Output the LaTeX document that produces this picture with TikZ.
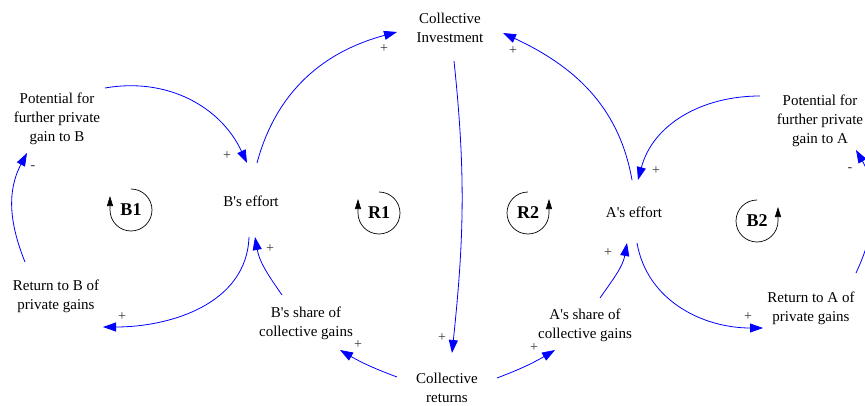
\documentclass[tikz,border=0pt]{standalone}
\usepackage{fontspec}
\setmainfont{Liberation Serif}
\usetikzlibrary{arrows.meta, calc}

\begin{document}
\begin{tikzpicture}[
    x=1pt, y=1pt,
    var/.style={align=center, font=\fontsize{15}{19}\selectfont, inner sep=0pt},
    link/.style={blue, line width=0.8pt, -{Triangle[length=13pt,width=9pt]}},
    sign/.style={font=\fontsize{14}{14}\selectfont, text=black!80, inner sep=0pt},
    looplabel/.style={font=\fontsize{18}{18}\selectfont\bfseries, inner sep=0pt},
    loopmark/.style={black, line width=0.7pt, -{Triangle[length=10pt,width=6pt]}},
]
\clip (0,0) rectangle (865,405);

% variables
\node[var] (cinv) at (450,377) {Collective\\Investment};
\node[var] (potb) at (57,286) {Potential for\\further private\\gain to B};
\node[var] (beff) at (251,204) {B\textquotesingle s effort};
\node[var] (retb) at (56,109) {Return to B of\\private gains};
\node[var] (bshare) at (306,82) {B\textquotesingle s share of\\collective gains};
\node[var] (cret) at (447,17) {Collective\\returns};
\node[var] (ashare) at (585,80) {A\textquotesingle s share of\\collective gains};
\node[var] (aeff) at (634,193) {A\textquotesingle s effort};
\node[var] (pota) at (820,284) {Potential for\\further private\\gain to A};
\node[var] (reta) at (811,97) {Return to A of\\private gains};

% loop markers
\node[looplabel] (b1) at (131,195) {B1};
\node[looplabel] (r1) at (379,192) {R1};
\node[looplabel] (r2) at (528,192) {R2};
\node[looplabel] (b2) at (757,184) {B2};
\draw[loopmark] ([yshift=21pt]b1.center) arc[start angle=90, end angle=-180, radius=21] -- ++(0,14);
\draw[loopmark] ([yshift=21pt]r1.center) arc[start angle=90, end angle=-180, radius=21] -- ++(0,14);
\draw[loopmark] ([yshift=21pt]r2.center) arc[start angle=90, end angle=360, radius=21] -- ++(0,14);
\draw[loopmark] ([yshift=21pt]b2.center) arc[start angle=90, end angle=360, radius=21] -- ++(0,14);

% B side
\draw[link] ($(potb)+(48,31)$) to[out=10, in=115] node[sign, pos=1, xshift=-20pt, yshift=7pt] {+} ($(beff)+(-4,38)$);
\draw[link] ($(beff)+(6,38)$) to[out=75, in=195] node[sign, pos=1, xshift=-13pt, yshift=-17pt] {+} ($(cinv)+(-53,-4)$);
\draw[link] ($(beff)+(-2,-36)$) to[out=-92, in=0] node[sign, pos=1, xshift=19pt, yshift=10pt] {+} ($(retb)+(47,-31)$);
\draw[link] ($(retb)+(-31,34)$) to[out=112, in=-118] node[sign, pos=1, xshift=6pt, yshift=-15pt] {-} ($(potb)+(-30,-34)$);
\draw[link] ($(bshare)+(-24,28)$) to[out=125, in=-80] node[sign, pos=1, xshift=15pt, yshift=-12pt] {+} ($(beff)+(4,-36)$);

% collective
\draw[link] ($(cinv)+(4,-33)$) to[out=-84, in=84] node[sign, pos=1, xshift=-10pt, yshift=15pt] {+} ($(cret)+(5,35)$);
\draw[link] ($(cret)+(-50,11)$) to[bend left=5] node[sign, pos=1, xshift=18pt, yshift=5pt] {+} ($(bshare)+(34,-27)$);
\draw[link] ($(cret)+(50,10)$) to[bend right=5] node[sign, pos=1, xshift=-21pt, yshift=2pt] {+} ($(ashare)+(-30,-25)$);

% A side
\draw[link] ($(ashare)+(15,27)$) to[out=55, in=-100] node[sign, pos=1, xshift=-19pt, yshift=-10pt] {+} ($(aeff)+(-7,-31)$);
\draw[link] ($(aeff)+(-2,32)$) to[out=100, in=-25] node[sign, pos=1, xshift=10pt, yshift=-18pt] {+} ($(cinv)+(53,-5)$);
\draw[link] ($(pota)+(-60,25)$) to[out=180, in=75] node[sign, pos=1, xshift=18pt, yshift=9pt] {+} ($(aeff)+(4,32)$);
\draw[link] ($(aeff)+(3,-31)$) to[out=-80, in=180] node[sign, pos=1, xshift=-15pt, yshift=11pt] {+} ($(reta)+(-48,-20)$);
\draw[link] ($(reta)+(45,35)$) to[out=65, in=-60] node[sign, pos=1, xshift=-6pt, yshift=-20pt] {-} ($(pota)+(36,-29)$);
\end{tikzpicture}
\end{document}
